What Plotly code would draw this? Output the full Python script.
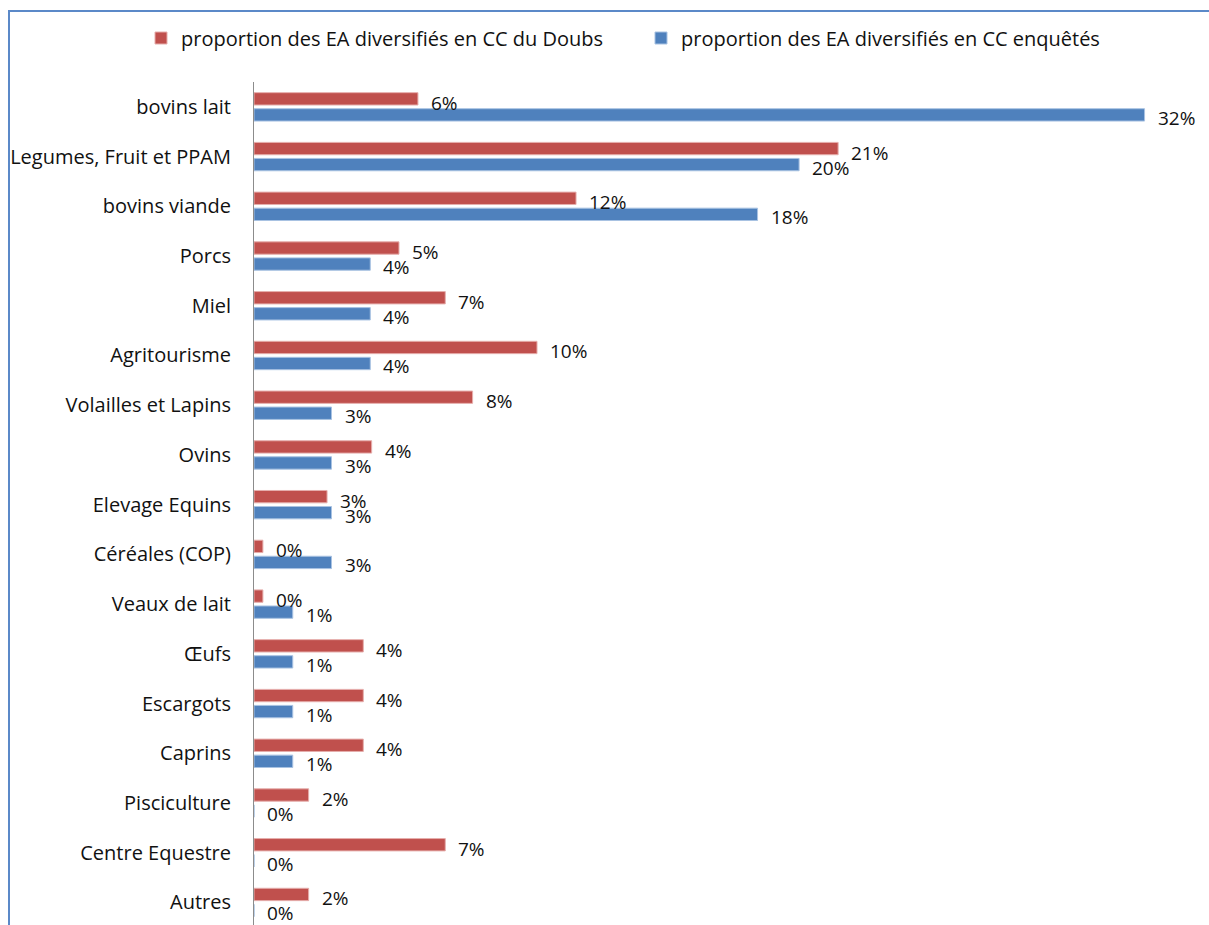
import plotly.graph_objects as go

# Filières de diversification (ordre d'affichage, de haut en bas)
categories = [
    "bovins lait", "Legumes, Fruit et PPAM", "bovins viande", "Porcs", "Miel",
    "Agritourisme", "Volailles et Lapins", "Ovins", "Elevage Equins",
    "Céréales (COP)", "Veaux de lait", "Œufs", "Escargots", "Caprins",
    "Pisciculture", "Centre Equestre", "Autres",
]

# Proportions en %
doubs = [5.88, 20.95, 11.55, 5.2, 6.86, 10.15, 7.84, 4.22, 2.62, 0.32, 0.32,
         3.92, 3.92, 3.92, 1.96, 6.86, 1.96]
enquetes = [31.94, 19.55, 18.06, 4.17, 4.17, 4.17, 2.78, 2.78, 2.78, 2.78,
            1.39, 1.39, 1.39, 1.39, 0.0, 0.0, 0.0]

name_doubs = "proportion des EA diversifiés en CC du Doubs"
name_enq = "proportion des EA diversifiés en CC enquêtés"

RED = "#C0504D"
BLUE = "#4F81BD"
FONT = "Open Sans"
FS = 20
TXT = "#111111"

fig = go.Figure()
fig.add_trace(go.Bar(
    y=categories, x=doubs, orientation="h", name=name_doubs,
    marker=dict(color=RED, line=dict(color="#E6AEAC", width=1)),
))
fig.add_trace(go.Bar(
    y=categories, x=enquetes, orientation="h", name=name_enq,
    marker=dict(color=BLUE, line=dict(color="#A8C2E2", width=1)),
))

# Étiquettes de valeurs à droite des barres
annotations = []
for cat, v in zip(categories, doubs):
    annotations.append(dict(x=v, y=cat, xref="x", yref="y", text=f"{v:.0f}%",
                            showarrow=False, xanchor="left", yanchor="middle",
                            xshift=11, yshift=4,
                            font=dict(family=FONT, size=FS - 1, color=TXT)))
for cat, v in zip(categories, enquetes):
    annotations.append(dict(x=v, y=cat, xref="x", yref="y", text=f"{v:.0f}%",
                            showarrow=False, xanchor="left", yanchor="middle",
                            xshift=11, yshift=-11,
                            font=dict(family=FONT, size=FS - 1, color=TXT)))

W, H = 1209, 925
ML, MR, MT, MB = 254, 7, 82, 0
pw, ph = W - ML - MR, H - MT - MB

def px_x(p):
    return (p - ML) / pw

def px_y(p):
    return (H - MB - p) / ph

# Cadre du graphique (bord supérieur et gauche)
border = dict(type="path", xref="paper", yref="paper",
              path=f"M {px_x(9)} {px_y(935)} L {px_x(9)} {px_y(11)} L {px_x(1215)} {px_y(11)}",
              line=dict(color="#5B89C8", width=2))

fig.update_layout(
    width=W, height=H,
    margin=dict(l=ML, r=MR, t=MT, b=MB),
    paper_bgcolor="white", plot_bgcolor="white",
    barmode="group", bargap=0.355, bargroupgap=0.23,
    font=dict(family=FONT, size=FS, color=TXT),
    xaxis=dict(range=[0, 34], visible=False),
    yaxis=dict(range=[16.453, -0.5], showline=True, linecolor="#8c8c8c",
               linewidth=1, ticks="", ticklabelstandoff=18, showgrid=False,
               tickfont=dict(family=FONT, size=FS, color=TXT)),
    legend=dict(orientation="h", x=px_x(141), xanchor="left",
                y=px_y(38), yanchor="middle", entrywidth=455,
                font=dict(family=FONT, size=FS, color=TXT),
                traceorder="normal"),
    annotations=annotations,
    shapes=[border],
)

fig.write_html("out.html")
